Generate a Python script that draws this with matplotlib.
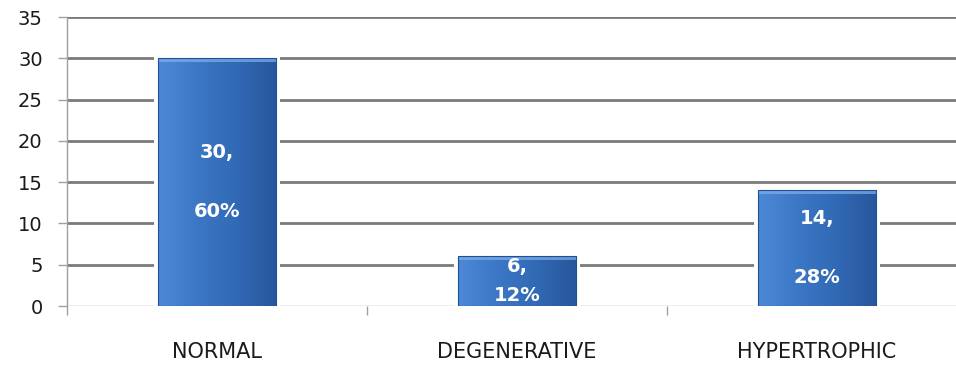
import numpy as np
import matplotlib
matplotlib.use("Agg")
import matplotlib.pyplot as plt
from matplotlib.colors import LinearSegmentedColormap
from matplotlib.patches import Rectangle

categories = ["NORMAL", "DEGENERATIVE", "HYPERTROPHIC"]
counts = [30, 6, 14]
percents = [60, 12, 28]
yticks = [0, 5, 10, 15, 20, 25, 30, 35]

plt.rcParams["font.family"] = ["DejaVu Sans"]

fig = plt.figure(figsize=(9.56, 3.66), dpi=100)
ax = fig.add_axes([67 / 956, 1 - 306 / 366, 900 / 956, 289 / 366])

x = np.arange(len(categories))
width = 0.395

# horizontal gridlines
for v in yticks[1:]:
    ax.axhline(v, color="#7a7a7a", lw=2.0, zorder=1)
ax.axhline(0, color="#a8a8a8", lw=1.0, zorder=1)

# soft white halo behind each bar
for xi, c in zip(x, counts):
    ax.add_patch(Rectangle((xi - width / 2 - 0.014, 0), width + 0.028, c + 0.3,
                           facecolor="white", edgecolor="none", zorder=2))

# bars with a horizontal blue gradient and a light top bevel
grad = LinearSegmentedColormap.from_list(
    "barblue", ["#4d89d6", "#3c77c5", "#3169b4", "#27569c"])
bars = ax.bar(x, counts, width=width, color="#3b74c2", edgecolor="none", zorder=3)
g = np.linspace(0, 1, 256).reshape(1, -1)
for b in bars:
    x0, y0 = b.get_x(), b.get_y()
    w, h = b.get_width(), b.get_height()
    im = ax.imshow(g, cmap=grad, aspect="auto", extent=(x0, x0 + w, y0, y0 + h),
                   zorder=3.5, interpolation="bicubic")
    im.set_clip_path(b)
    bevel = min(0.45, h * 0.08)
    ax.add_patch(Rectangle((x0, y0 + h - bevel), w, bevel, facecolor="#7fb0ea",
                           edgecolor="none", alpha=0.7, zorder=3.6))
    ax.add_patch(Rectangle((x0, y0), w, h, facecolor="none", edgecolor="#1f4f95",
                           lw=0.8, zorder=3.7))
ax.set_xlim(-0.5, 2.5)
ax.set_ylim(0, 35)

# value labels inside bars
for xi, c, p in zip(x, counts, percents):
    txt = f"{c},\n\n{p}%" if c >= 10 else f"{c},\n{p}%"
    ax.text(xi, c / 2, txt, ha="center", va="center", color="white",
            fontsize=14, fontweight="bold", linespacing=1.7, zorder=5,
            clip_on=True)

# axes styling
for s in ["top", "right", "bottom"]:
    ax.spines[s].set_visible(False)
ax.spines["left"].set_color("#a0a0a0")
ax.spines["left"].set_linewidth(1.0)

ax.set_yticks(yticks)
ax.tick_params(axis="y", length=6.5, width=1, color="#a0a0a0", labelsize=14,
               labelcolor="#1a1a1a", pad=11)
ax.set_xticks(x)
ax.set_xticklabels(categories)
ax.tick_params(axis="x", which="major", length=0, labelsize=15,
               labelcolor="#1a1a1a", pad=26)
ax.set_xticks([-0.5, 0.5, 1.5, 2.5], minor=True)
ax.tick_params(axis="x", which="minor", length=6.5, width=1, color="#a0a0a0")

fig.savefig("out.png", dpi=100)
